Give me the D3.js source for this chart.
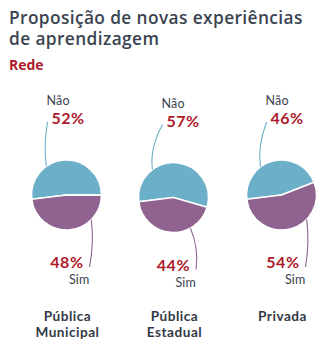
<!DOCTYPE html>
<html><head><meta charset="utf-8">
<script src="https://cdn.jsdelivr.net/npm/d3@7"></script>
<style>
html,body{margin:0;padding:0;background:#fff;}
svg{display:block;font-family:"Open Sans",sans-serif;}
.lab{font-family:Lato,"Open Sans",sans-serif;}
</style></head>
<body><svg id="c" width="331" height="350"></svg>
<script>
// ---- data ----
const titleLines = ["Proposição de novas experiências", "de aprendizagem"];
const subtitle = "Rede";
const categories = [["Pública", "Municipal"], ["Pública", "Estadual"], ["Privada"]];
const seriesNames = ["Não", "Sim"];
const naoValues = [52, 57, 46];
const simValues = [48, 44, 54];

// ---- layout (not data) ----
const centersX = [66.5, 173.5, 281.5];
const centersY = [195, 197.5, 195];
const R = 35;
const naoLabelDx = [-20, -12, -16];   // left of "Não" text vs center
const simLabelDx = [23, 22.5, 24];    // right edge of "Sim" text vs center
const naoEdgeAngle = [-35, -37, -37]; // deg, where leader meets pie
const simEdgeAngle = [135, 151, 134];
const colors = {"Não": "#6cafc9", "Sim": "#8f6290"};
const red = "#ad1a2c", dark = "#3a4350";

const svg = d3.select("#c");

// title
svg.append("text").attr("x", 9).attr("y", 24)
  .attr("font-size", 17.3).attr("font-weight", 600).attr("fill", dark)
  .attr("letter-spacing", 0.4)
  .selectAll("tspan").data(titleLines).join("tspan")
  .attr("x", 9).attr("dy", (d, i) => i ? 21 : 0).text(d => d);
svg.append("text").attr("x", 9).attr("y", 69.5).attr("font-size", 14)
  .attr("font-weight", 700).attr("fill", red).text(subtitle);

const pie = d3.pie().sort(null).value(d => d.v)
  .startAngle(-97 * Math.PI / 180).endAngle(263 * Math.PI / 180);
const arc = d3.arc().innerRadius(0).outerRadius(R);

categories.forEach((cat, i) => {
  const cx = centersX[i], cy = centersY[i];
  const g = svg.append("g").attr("transform", `translate(${cx},${cy})`);
  const slices = pie([{k: "Não", v: naoValues[i]}, {k: "Sim", v: simValues[i]}]);
  g.selectAll("path.s").data(slices).join("path").attr("class", "s")
    .attr("d", arc).attr("fill", d => colors[d.data.k])
    .attr("stroke", "#fff").attr("stroke-width", 1.6).attr("stroke-linejoin", "round");

  // Não label
  const nx = naoLabelDx[i];
  g.append("text").attr("class", "lab").attr("x", nx).attr("y", -90).attr("font-size", 12.5)
    .attr("fill", dark).attr("letter-spacing", 0.2).text(seriesNames[0]);
  g.append("text").attr("class", "lab").attr("x", nx + 5).attr("y", -71).attr("font-size", 16)
    .attr("font-weight", 700).attr("fill", red).attr("letter-spacing", 0.5)
    .text(naoValues[i] + "%");
  // Não leader
  const a0 = naoEdgeAngle[i] * Math.PI / 180;
  const p0 = [Math.sin(a0) * R, -Math.cos(a0) * R];
  const p1 = [nx + 1, -73];
  const pn = d3.path();
  pn.moveTo(p0[0], p0[1]);
  pn.quadraticCurveTo(Math.min(p0[0], p1[0]) - 3, (p0[1] + p1[1]) / 2 + 2, p1[0], p1[1]);
  g.append("path").attr("d", pn.toString()).attr("fill", "none")
    .attr("stroke", colors["Não"]).attr("stroke-width", 1.1);

  // Sim label
  const sx = simLabelDx[i];
  g.append("text").attr("class", "lab").attr("x", sx).attr("y", 89).attr("font-size", 12.5)
    .attr("text-anchor", "end").attr("fill", dark).attr("letter-spacing", 0.2).text(seriesNames[1]);
  g.append("text").attr("class", "lab").attr("x", sx - 6).attr("y", 73).attr("font-size", 16)
    .attr("text-anchor", "end").attr("font-weight", 700).attr("fill", red)
    .attr("letter-spacing", 0.5).text(simValues[i] + "%");
  const b0 = simEdgeAngle[i] * Math.PI / 180;
  const q0 = [Math.sin(b0) * R, -Math.cos(b0) * R];
  const q1 = [sx, 72];
  const ps = d3.path();
  ps.moveTo(q0[0], q0[1]);
  ps.quadraticCurveTo(Math.max(q0[0], q1[0]) + 3, (q0[1] + q1[1]) / 2, q1[0], q1[1]);
  g.append("path").attr("d", ps.toString()).attr("fill", "none")
    .attr("stroke", colors["Sim"]).attr("stroke-width", 1.1);

  // category label
  svg.append("text").attr("class", "lab").attr("text-anchor", "middle").attr("font-size", 13.6)
    .attr("font-weight", 700).attr("fill", "#323a46").attr("letter-spacing", 0.5)
    .selectAll("tspan").data(cat).join("tspan")
    .attr("x", cx + 1).attr("y", (d, j) => 320.5 + j * 16).text(d => d);
});
</script></body></html>
